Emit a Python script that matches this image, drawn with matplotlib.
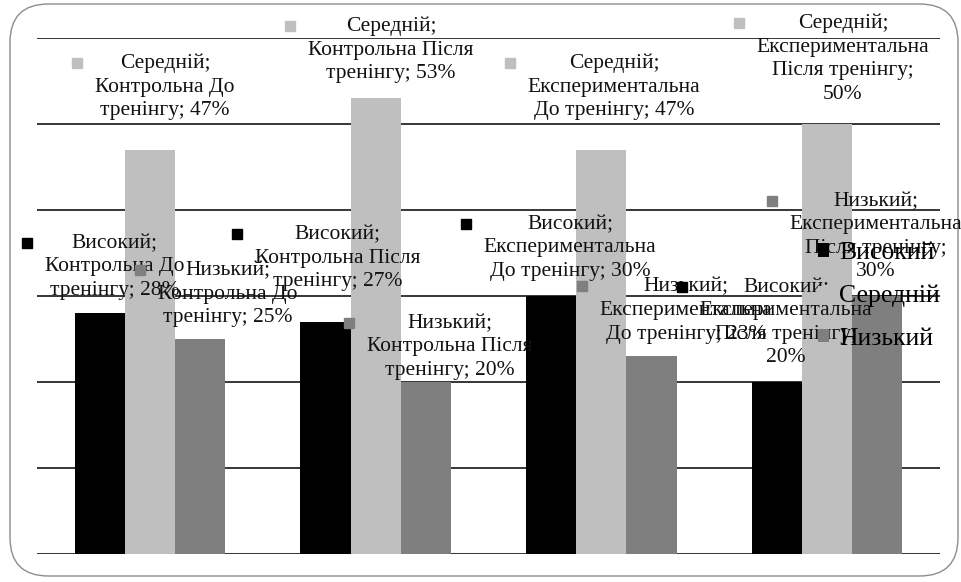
import numpy as np
import matplotlib.pyplot as plt
from matplotlib.patches import FancyBboxPatch

plt.rcParams['font.family'] = ['Liberation Serif', 'DejaVu Serif']

# ====== DATA ======
categories = ["Контрольна До тренінгу", "Контрольна Після тренінгу",
              "Експериментальна До тренінгу", "Експериментальна Після тренінгу"]
# how each category name breaks inside its data label
category_wrapped = ["Контрольна До\nтренінгу", "Контрольна Після\nтренінгу",
                    "Експериментальна\nДо тренінгу", "Експериментальна\nПісля тренінгу"]
series_names = ["Високий", "Середній", "Низький"]
vysokyi = [28, 27, 30, 20]
serednii = [47, 53, 47, 50]
nyzkyi = [25, 20, 23, 30]

colors = ["#000000", "#BFBFBF", "#7F7F7F"]

# label block centres (x in category units, y in %), one row per series
label_pos = [
    [(-0.155, 33.4), (0.833, 34.4), (1.861, 35.6), (2.818, 26.9)],
    [(0.067, 54.3), (1.068, 58.6), (2.056, 54.3), (3.070, 57.6)],
    [(0.346, 30.2), (1.329, 24.1), (2.375, 28.3), (3.216, 36.9)],
]

W, H = 961, 582
fig = plt.figure(figsize=(W / 100, H / 100), dpi=100)
fig.patch.set_facecolor("white")

# rounded chart border
border = FancyBboxPatch((10 / W, 6 / H), 948 / W, 572 / H,
                        boxstyle="round,pad=0,rounding_size=0.04",
                        transform=fig.transFigure, facecolor="none",
                        edgecolor="#8c8c8c", linewidth=1.0, mutation_aspect=W / H,
                        zorder=-1)
fig.patches.append(border)

ax = fig.add_axes([37 / W, 1 - 554 / H, (940 - 37) / W, (554 - 38) / H])
ax.set_facecolor("none")

x = np.arange(len(categories))
bw = 0.222
values = [vysokyi, serednii, nyzkyi]
for i, (name, vals) in enumerate(zip(series_names, values)):
    ax.bar(x + (i - 1) * bw, vals, bw, color=colors[i], label=name, zorder=2)

ax.set_xlim(-0.5, len(categories) - 0.5)
ax.set_ylim(0, 60)
ax.set_yticks(np.arange(0, 61, 10))
ax.yaxis.grid(True, color="black", linewidth=1.1, zorder=1)
ax.set_axisbelow(True)
ax.tick_params(left=False, bottom=False, labelleft=False, labelbottom=False)
for s in ax.spines.values():
    s.set_visible(False)

# data labels: "series; category; value%"
FS = 15.5
texts = []
for i, name in enumerate(series_names):
    for j, cat in enumerate(category_wrapped):
        v = values[i][j]
        if j == 3:
            txt = f"{name};\n{cat};\n{v}%"
        else:
            txt = f"{name};\n{cat}; {v}%"
        px, py = label_pos[i][j]
        t = ax.text(px, py, txt, ha="center", va="center", multialignment="center",
                    fontsize=FS, color="#111111", linespacing=1.32, zorder=4)
        texts.append((t, colors[i], txt.count("\n") + 1))

# small colour keys to the left of each label's first line
fig.canvas.draw()
renderer = fig.canvas.get_renderer()
inv = ax.transData.inverted()
for t, c, nlines in texts:
    bb = t.get_window_extent(renderer)
    line_h = bb.height / nlines
    mx, my = inv.transform((bb.x0 - 18, bb.y1 - line_h * 0.4))
    ax.plot([mx], [my], marker="s", markersize=7, color=c, linestyle="none",
            zorder=5, clip_on=False)

leg = ax.legend(loc="center left", bbox_to_anchor=(818 / W, 1 - 296 / H),
                bbox_transform=fig.transFigure, frameon=False, fontsize=18.5,
                handlelength=0.42, handleheight=0.42, handletextpad=0.4,
                labelspacing=0.8, borderpad=0, borderaxespad=0)
leg.set_zorder(6)

fig.savefig("out.png", dpi=100)
